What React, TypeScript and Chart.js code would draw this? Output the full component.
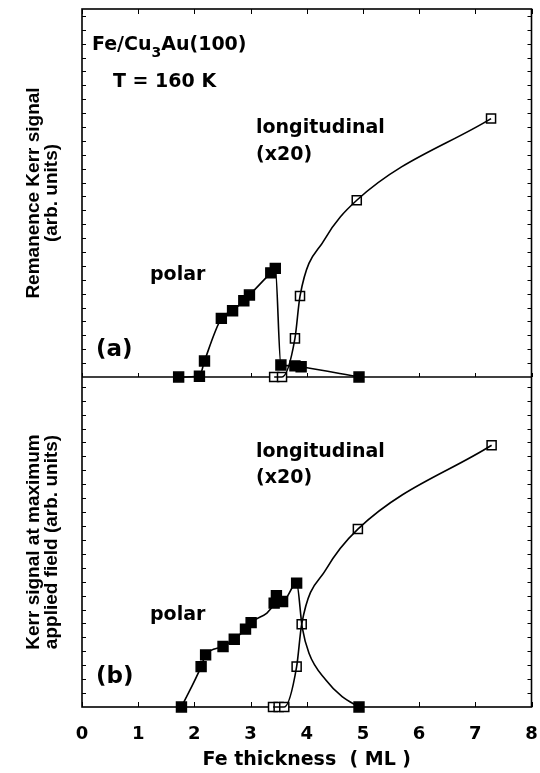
import React, { useEffect, useRef } from 'react';
import { Chart, registerables } from 'chart.js';

Chart.register(...registerables);

// x axis
const xTickValues = [0, 1, 2, 3, 4, 5, 6, 7, 8];

// Panel (a): remanence Kerr signal
const polarAThickness = [1.72, 2.09, 2.18, 2.48, 2.68, 2.88, 2.98, 3.36, 3.44, 3.54, 3.79, 3.9, 4.93];
const polarASignal = [0, 0.05, 1.15, 4.22, 4.77, 5.49, 5.9, 7.5, 7.82, 0.86, 0.8, 0.74, 0];
const longAThickness = [3.42, 3.56, 3.79, 3.88, 4.89, 7.28];
const longASignal = [0, 0, 2.78, 5.83, 12.73, 18.61];
const longACurveThickness = [4.31];
const longACurveSignal = [9.86];

// Panel (b): Kerr signal at maximum applied field
const polarBThickness = [1.77, 2.12, 2.2, 2.51, 2.71, 2.91, 3.01, 3.42, 3.46, 3.57, 3.82, 4.93];
const polarBSignal = [0, 2.9, 3.74, 4.34, 4.87, 5.59, 6.06, 7.46, 7.99, 7.58, 8.9, 0];
const polarBCurveThickness = [3.92, 4.04, 4.34, 4.63];
const polarBCurveSignal = [5.7, 3.86, 1.94, 0.74];
const longBThickness = [3.4, 3.5, 3.6, 3.82, 3.91, 4.91, 7.29];
const longBSignal = [0, 0, 0, 2.9, 5.95, 12.78, 18.8];
const longBCurveThickness = [4.34];
const longBCurveSignal = [9.86];

const yMaxA = 26.5;
const yMaxB = 23.7;

const HFONT = '"DejaVu Sans", sans-serif';
const VFONT = '"Liberation Sans", Arial, sans-serif';

const pts = (xs: number[], ys: number[]) => xs.map((x, i) => ({ x, y: ys[i] }));
const curve = (xs: number[], ys: number[], cx: number[], cy: number[]) =>
  [...pts(xs, ys), ...pts(cx, cy)].sort((a, b) => a.x - b.x);

const lineDs = (data: any[], axis: string) => ({
  data,
  yAxisID: axis,
  borderColor: '#000',
  borderWidth: 1.6,
  pointRadius: 0,
  showLine: true,
  fill: false,
  cubicInterpolationMode: 'monotone' as const,
  clip: false as const,
});

const markerDs = (data: any[], axis: string, filled: boolean) => ({
  data,
  yAxisID: axis,
  showLine: false,
  pointStyle: 'rect' as const,
  pointRadius: filled ? 7 : 6.4,
  pointBorderWidth: 1.5,
  pointBorderColor: '#000',
  pointBackgroundColor: filled ? '#000' : '#fff',
  borderColor: '#000',
  clip: false as const,
});

const framePlugin = {
  id: 'frame',
  beforeDatasetsDraw(chart: any) {
    const { ctx, chartArea: ca, scales } = chart;
    const x = scales.x;
    const yA = scales.yA;
    const yB = scales.yB;
    ctx.save();
    ctx.strokeStyle = '#000';
    ctx.lineWidth = 1.6;
    ctx.strokeRect(ca.left, ca.top, ca.right - ca.left, ca.bottom - ca.top);
    const dY = yA.getPixelForValue(0);
    ctx.beginPath();
    ctx.moveTo(ca.left, dY);
    ctx.lineTo(ca.right, dY);
    ctx.stroke();
    ctx.lineWidth = 1;
    ctx.beginPath();
    [[yA, yMaxA], [yB, yMaxB]].forEach(([s, mx]: any) => {
      for (let v = 1; v < mx; v++) {
        const py = Math.round(s.getPixelForValue(v)) + 0.5;
        ctx.moveTo(ca.left, py);
        ctx.lineTo(ca.left + 4, py);
        ctx.moveTo(ca.right - 4, py);
        ctx.lineTo(ca.right, py);
      }
    });
    xTickValues.forEach((v) => {
      const px = Math.round(x.getPixelForValue(v)) + 0.5;
      ctx.moveTo(px, ca.bottom);
      ctx.lineTo(px, ca.bottom - 5);
      ctx.moveTo(px, ca.top);
      ctx.lineTo(px, ca.top + 5);
      ctx.moveTo(px, dY);
      ctx.lineTo(px, dY - 4);
    });
    ctx.stroke();
    ctx.restore();
  },
  afterDatasetsDraw(chart: any) {
    const { ctx } = chart;
    ctx.save();
    ctx.fillStyle = '#000';
    ctx.textBaseline = 'middle';
    ctx.textAlign = 'left';
    const put = (t: string, x: number, y: number, size: number) => {
      ctx.font = `bold ${size}px ${HFONT}`;
      ctx.fillText(t, x, y);
      return ctx.measureText(t).width;
    };
    let cx = 92;
    cx += put('Fe/Cu', cx, 45, 19);
    cx += put('3', cx, 53, 14);
    put('Au(100)', cx, 45, 19);
    put('T = 160 K', 113, 82, 19);
    put('longitudinal', 256, 128, 19);
    put('(x20)', 256, 155, 19);
    put('polar', 150, 275, 19);
    put('(a)', 96, 350, 23);
    put('longitudinal', 256, 452, 19);
    put('(x20)', 256, 478, 19);
    put('polar', 150, 615, 19);
    put('(b)', 96, 677, 23);
    ctx.restore();
  },
};

export default function App() {
  const ref = useRef<HTMLCanvasElement | null>(null);
  useEffect(() => {
    if (!ref.current) return;
    const chart = new Chart(ref.current, {
      type: 'line',
      data: {
        datasets: [
          lineDs(pts(polarAThickness, polarASignal), 'yA'),
          lineDs(curve(longAThickness, longASignal, longACurveThickness, longACurveSignal), 'yA'),
          lineDs(curve(polarBThickness, polarBSignal, polarBCurveThickness, polarBCurveSignal), 'yB'),
          lineDs(curve(longBThickness, longBSignal, longBCurveThickness, longBCurveSignal), 'yB'),
          markerDs(pts(polarAThickness, polarASignal), 'yA', true),
          markerDs(pts(longAThickness, longASignal), 'yA', false),
          markerDs(pts(polarBThickness, polarBSignal), 'yB', true),
          markerDs(pts(longBThickness, longBSignal), 'yB', false),
        ] as any,
      },
      options: {
        animation: false,
        responsive: true,
        maintainAspectRatio: false,
        devicePixelRatio: 1,
        layout: { padding: { top: 9, right: 7, bottom: 0, left: 0 } },
        plugins: { legend: { display: false }, tooltip: { enabled: false } },
        scales: {
          yB: {
            type: 'linear',
            position: 'left',
            stack: 'panels',
            stackWeight: 330,
            min: 0,
            max: yMaxB,
            ticks: { display: false, stepSize: 1 },
            grid: { display: false, drawTicks: false },
            border: { display: false },
            title: {
              display: true,
              text: ['Kerr signal at maximum', 'applied field (arb. units)'],
              color: '#000',
              font: { family: VFONT, size: 19, weight: 'bold', lineHeight: 0.98 },
              padding: { top: 24, bottom: 0 },
            },
            afterFit: (s: any) => { s.width = 82; },
          },
          yA: {
            type: 'linear',
            position: 'left',
            stack: 'panels',
            stackWeight: 368,
            min: 0,
            max: yMaxA,
            ticks: { display: false, stepSize: 1 },
            grid: { display: false, drawTicks: false },
            border: { display: false },
            title: {
              display: true,
              text: ['Remanence Kerr signal', '(arb. units)'],
              color: '#000',
              font: { family: VFONT, size: 19, weight: 'bold', lineHeight: 0.98 },
              padding: { top: 24, bottom: 0 },
            },
            afterFit: (s: any) => { s.width = 82; },
          },
          x: {
            type: 'linear',
            position: 'bottom',
            min: 0,
            max: 8,
            ticks: {
              stepSize: 1,
              color: '#000',
              padding: 17,
              font: { family: HFONT, size: 18, weight: 'bold' },
            },
            grid: { display: false, drawTicks: false },
            border: { display: false },
            title: {
              display: true,
              text: 'Fe thickness  ( ML )',
              color: '#000',
              font: { family: HFONT, size: 19, weight: 'bold', lineHeight: 1.2 },
              padding: { top: 0, bottom: 2 },
            },
            afterFit: (s: any) => { s.height = 66; s.paddingLeft = 0; s.paddingRight = 0; },
          },
        } as any,
      },
      plugins: [framePlugin],
    });
    return () => chart.destroy();
  }, []);
  return (
    <div style={{ position: 'absolute', left: 0, top: 0, width: 540, height: 773, background: '#fff' }}>
      <canvas ref={ref} />
    </div>
  );
}
